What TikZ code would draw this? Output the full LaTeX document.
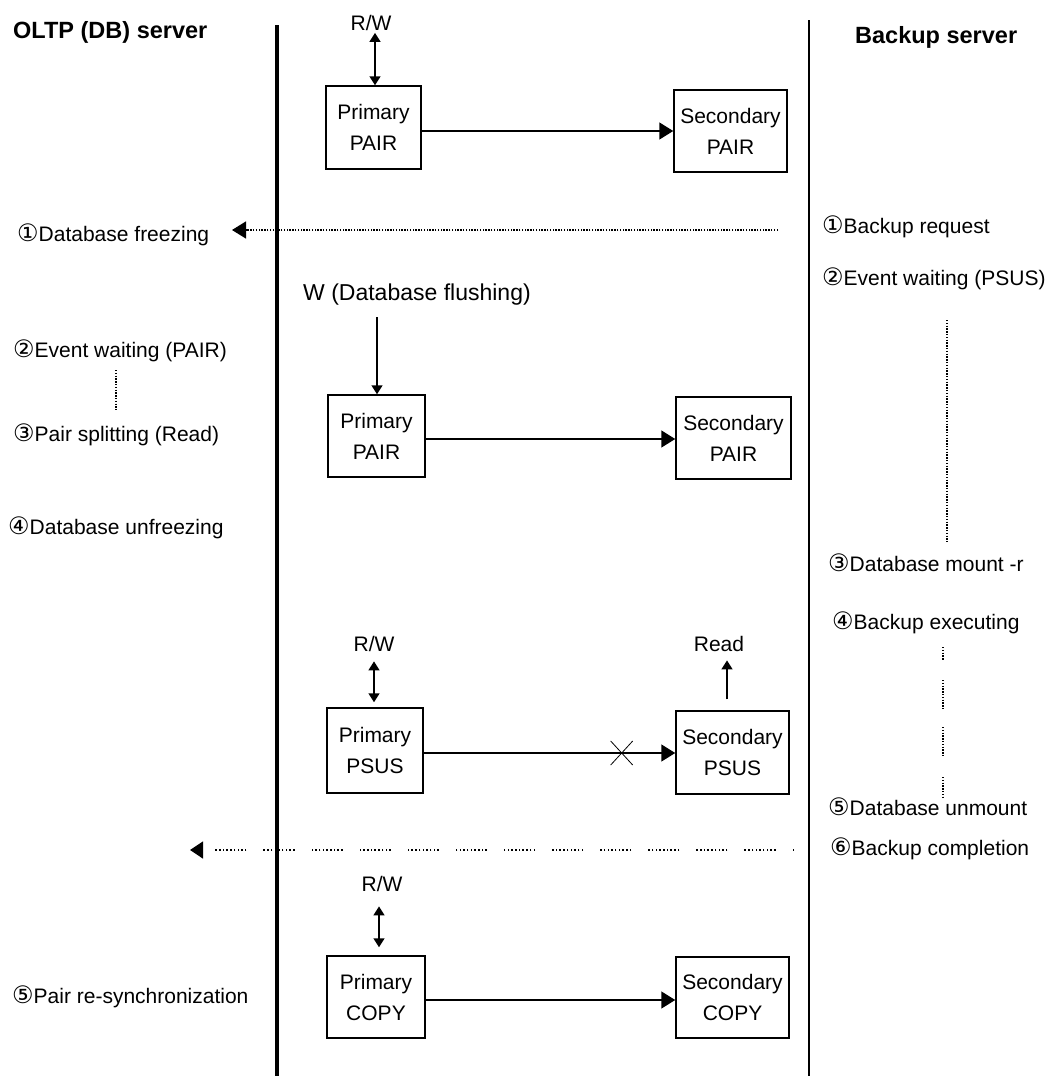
\documentclass[tikz,border=0pt]{standalone}
\usepackage{fontspec}
\setmainfont{Liberation Sans}
\newfontfamily\circfont{DejaVu Sans}
\usetikzlibrary{arrows.meta}

% circled step number in front of a label
\newcommand\stepno[1]{{\circfont\fontsize{24}{24}\selectfont\raisebox{-0.5pt}{#1}}}

\begin{document}
\begin{tikzpicture}[x=1pt,y=-1pt,
  lbl/.style={anchor=base west, inner sep=0pt, font=\fontsize{21}{25}\selectfont},
  title/.style={anchor=base west, inner sep=0pt, font=\fontsize{23.5}{28}\selectfont\bfseries},
  io/.style={anchor=base, inner sep=0pt, font=\fontsize{21}{25}\selectfont},
  vol/.style={draw, line width=1.5pt, inner sep=0pt, align=center, font=\fontsize{21}{31}\selectfont},
  flow/.style={line width=1.5pt, -{Triangle[length=14pt,width=17pt]}},
  rwarrow/.style={line width=1.5pt, {Triangle[length=9pt,width=11pt]}-{Triangle[length=9pt,width=11pt]}},
  oneway/.style={line width=1.5pt, -{Triangle[length=9pt,width=11pt]}},
  msg/.style={line width=1.3pt, dash pattern=on 1.4pt off 1.4pt, -{Triangle[length=14pt,width=17pt]}},
  msgdash/.style={line width=1.3pt,
    dash pattern=on 1.5pt off 2.2pt on 1.5pt off 2.2pt on 1.5pt off 2.2pt on 1.5pt off 2.2pt
      on 1.5pt off 2.2pt on 1.5pt off 2.2pt on 1.5pt off 2.2pt on 1.5pt off 2.2pt on 1.5pt off 17pt,
    dash phase=29.6pt, -{Triangle[length=13pt,width=17pt]}},
  waitline/.style={line width=1.3pt, dash pattern=on 1.4pt off 1.4pt},
]
\useasboundingbox (0,0) rectangle (1060,1076);
\fill[white] (0,0) rectangle (1060,1076);

% server lifelines
\draw[line width=3.5pt] (277,25) -- (277,1076);
\draw[line width=1.6pt] (809,20) -- (809,1076);

% headings
\node[title] (oltp) at (13,38) {OLTP (DB) server};
\node[title] (bksrv) at (855,43) {Backup server};

% ---- volumes
\node[vol, minimum width=95, minimum height=83] (p1) at (373.5,127.5) {Primary\\PAIR};
\node[vol, minimum width=113, minimum height=82] (s1) at (730.5,131) {Secondary\\PAIR};
\node[vol, minimum width=97, minimum height=82] (p2) at (376.5,436) {Primary\\PAIR};
\node[vol, minimum width=115, minimum height=82] (s2) at (733.5,438) {Secondary\\PAIR};
\node[vol, minimum width=96, minimum height=85] (p3) at (375,750.5) {Primary\\PSUS};
\node[vol, minimum width=113, minimum height=83] (s3) at (732.5,752.5) {Secondary\\PSUS};
\node[vol, minimum width=98, minimum height=82] (p4) at (376,997) {Primary\\COPY};
\node[vol, minimum width=113, minimum height=81] (s4) at (732.5,997.5) {Secondary\\COPY};

% ---- copy links
\coordinate (a1) at ([yshift=-3.5pt]p1.east);
\coordinate (a2) at ([yshift=-3pt]p2.east);
\coordinate (a3) at ([yshift=-2.5pt]p3.east);
\coordinate (a4) at ([yshift=-3pt]p4.east);
\draw[flow] (a1) -- (a1 -| s1.west);
\draw[flow] (a2) -- (a2 -| s2.west);
\draw[flow] (a3) -- (a3 -| s3.west);
\draw[flow] (a4) -- (a4 -| s4.west);
% suspended link
\path (a3) -- (a3 -| s3.west) coordinate[pos=0.787] (cut);
\draw[line width=0.8pt] ([shift={(-11,-12)}]cut) -- ([shift={(11,12)}]cut);
\draw[line width=0.8pt] ([shift={(-11,12)}]cut) -- ([shift={(11,-12)}]cut);

% ---- host access
\node[io] (rw1) at (371,30) {R/W};
\node[lbl, font=\fontsize{23}{27}\selectfont] (wf) at (303,300) {W (Database flushing)};
\node[io] (rw3) at (374,651) {R/W};
\node[io] (rd3) at (719,651) {Read};
\node[io] (rw4) at (382,891) {R/W};

\draw[rwarrow, shorten >=2.5pt] ([xshift=1.5pt]p1.north) -- ([xshift=1.5pt]p1.north |- rw1.south);
\draw[oneway] ([xshift=0.5pt]p2.north |- 0,317) -- ([xshift=0.5pt]p2.north);
\draw[rwarrow, shorten <=5pt, shorten >=10pt] ([xshift=-1pt]p3.north) -- ([xshift=-1pt]p3.north |- rw3.south);
\draw[oneway, shorten <=11pt, shorten >=9pt] ([xshift=-5.5pt]s3.north) -- ([xshift=-5.5pt]s3.north |- rd3.south);
\draw[rwarrow, shorten <=8pt, shorten >=15pt] ([xshift=3pt]p4.north) -- ([xshift=3pt]p4.north |- rw4.south);

% ---- OLTP side steps
\node[lbl] (l1) at (17,241) {\stepno{①}Database freezing};
\node[lbl] (l2) at (13,357) {\stepno{②}Event waiting (PAIR)};
\node[lbl] (l3) at (13,441) {\stepno{③}Pair splitting (Read)};
\node[lbl] (l4) at (8,534) {\stepno{④}Database unfreezing};
\node[lbl] (l5) at (12,1003) {\stepno{⑤}Pair re-synchronization};
\draw[waitline] (116,370) -- (116,410);

% ---- backup side steps
\node[lbl] (r1) at (822,233) {\stepno{①}Backup request};
\node[lbl] (r2) at (822,285) {\stepno{②}Event waiting (PSUS)};
\node[lbl] (r3) at (828,571) {\stepno{③}Database mount -r};
\node[lbl] (r4) at (832,629) {\stepno{④}Backup executing};
\node[lbl] (r5) at (828,815) {\stepno{⑤}Database unmount};
\node[lbl] (r6) at (830,855) {\stepno{⑥}Backup completion};
\draw[waitline] (947,320) -- (947,542);
\draw[waitline] (943,647) -- (943,660);
\draw[waitline] (943,680) -- (943,710);
\draw[waitline] (943,727) -- (943,757);
\draw[waitline] (943,777) -- (943,798);

% ---- notifications from the backup server
\coordinate (req) at (778,230);
\coordinate (reqend) at (232,230);
\draw[msg] (req) -- (reqend);
\coordinate (done) at (794,850);
\coordinate (doneend) at (190,850);
\draw[msgdash] (done) -- (doneend);
\end{tikzpicture}
\end{document}
